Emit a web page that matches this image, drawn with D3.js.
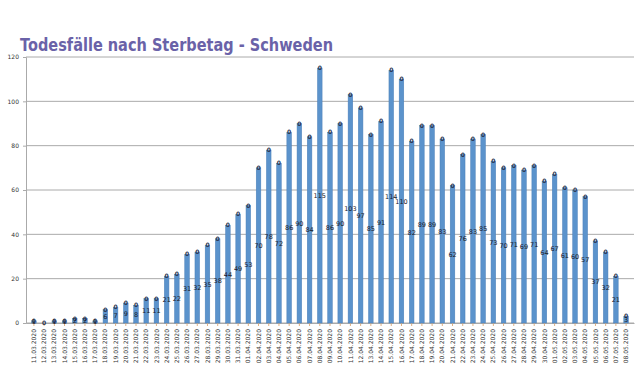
<!DOCTYPE html>
<html>
<head>
<meta charset="utf-8">
<script src="https://cdn.jsdelivr.net/npm/d3@7"></script>
<style>
  body { margin: 0; background: #fff; }
  text { font-family: "DejaVu Sans", sans-serif; }
</style>
</head>
<body>
<div id="chart"></div>
<script>
var dates = ["11.03.2020","12.03.2020","13.03.2020","14.03.2020","15.03.2020","16.03.2020","17.03.2020",
  "18.03.2020","19.03.2020","20.03.2020","21.03.2020","22.03.2020","23.03.2020","24.03.2020","25.03.2020",
  "26.03.2020","27.03.2020","28.03.2020","29.03.2020","30.03.2020","31.03.2020",
  "01.04.2020","02.04.2020","03.04.2020","04.04.2020","05.04.2020","06.04.2020","07.04.2020","08.04.2020",
  "09.04.2020","10.04.2020","11.04.2020","12.04.2020","13.04.2020","14.04.2020","15.04.2020","16.04.2020",
  "17.04.2020","18.04.2020","19.04.2020","20.04.2020","21.04.2020","22.04.2020","23.04.2020","24.04.2020",
  "25.04.2020","26.04.2020","27.04.2020","28.04.2020","29.04.2020","30.04.2020",
  "01.05.2020","02.05.2020","03.05.2020","04.05.2020","05.05.2020","06.05.2020","07.05.2020","08.05.2020"];

var deaths = [1,0,1,1,2,2,1,6,7,9,8,11,11,21,22,31,32,35,38,44,49,
  53,70,78,72,86,90,84,115,86,90,103,97,85,91,114,110,82,89,89,83,62,76,83,85,73,70,71,69,71,64,
  67,61,60,57,37,32,21,3];

var yTicks = [0,20,40,60,80,100,120];

var title = "Todesfälle nach Sterbetag - Schweden";

var margin = {top: 57, right: 6, bottom: 61, left: 26},
    width = 640 - margin.left - margin.right,
    height = 384 - margin.top - margin.bottom;

var data = dates.map(function(d, i) { return {date: d, value: deaths[i]}; });

var svg = d3.select("#chart")
  .append("svg")
    .attr("width", 640)
    .attr("height", 384);

svg.append("text")
    .attr("x", 20)
    .attr("y", 51)
    .attr("fill", "#6a62a8")
    .attr("font-family", "Open Sans, sans-serif")
    .attr("font-weight", 600)
    .attr("font-size", 17)
    .attr("textLength", 313)
    .attr("lengthAdjust", "spacingAndGlyphs")
    .text(title);

var g = svg.append("g")
    .attr("transform", "translate(" + margin.left + "," + margin.top + ")");

var x = d3.scaleBand()
    .domain(dates)
    .range([0, width])
    .padding(0.55);

var y = d3.scaleLinear()
    .domain([0, 120])
    .range([height, 0]);

// gridlines
g.append("g")
  .selectAll("line")
  .data(yTicks)
  .enter()
  .append("line")
    .attr("x1", 0)
    .attr("x2", width)
    .attr("y1", function(d) { return y(d); })
    .attr("y2", function(d) { return y(d); })
    .attr("stroke", "#aaa")
    .attr("stroke-width", 1);

var yAxis = g.append("g")
    .call(d3.axisLeft(y).tickValues(yTicks).tickSize(3).tickPadding(4));
yAxis.select(".domain").attr("stroke", "#aaa");
yAxis.selectAll(".tick line").attr("stroke", "#aaa");
yAxis.selectAll("text").attr("font-size", 6).attr("fill", "#333");

var xAxis = g.append("g")
    .attr("transform", "translate(0," + height + ")")
    .call(d3.axisBottom(x).tickSize(3).tickSizeOuter(0));
xAxis.select(".domain").attr("stroke", "#aaa");
xAxis.selectAll(".tick line").attr("stroke", "#e0b080");
xAxis.selectAll("text")
    .attr("font-size", 6)
    .attr("fill", "#333")
    .attr("transform", "rotate(-90)")
    .attr("text-anchor", "end")
    .attr("x", -6)
    .attr("y", 0)
    .attr("dy", "0.35em");

g.append("g")
  .selectAll("rect")
  .data(data)
  .enter()
  .append("rect")
    .attr("x", function(d) { return x(d.date); })
    .attr("y", function(d) { return y(d.value); })
    .attr("width", x.bandwidth())
    .attr("height", function(d) { return height - y(d.value); })
    .attr("fill", "#5b93cc")
    .attr("stroke", "#4a7fb8")
    .attr("stroke-width", 0.5);

// small "0" markers on top of each bar
g.append("g")
  .selectAll("text")
  .data(data)
  .enter()
  .append("text")
    .attr("x", function(d) { return x(d.date) + x.bandwidth() / 2; })
    .attr("y", function(d) { return y(d.value) + 2; })
    .attr("text-anchor", "middle")
    .attr("font-size", 6)
    .attr("font-weight", "bold")
    .attr("fill", "#2a3550")
    .text("0");

// value labels in the middle of the bar
g.append("g")
  .selectAll("text")
  .data(data.filter(function(d) { return d.value > 0; }))
  .enter()
  .append("text")
    .attr("x", function(d) { return x(d.date) + x.bandwidth() / 2; })
    .attr("y", function(d) { return (y(d.value) + height) / 2 + 2.5; })
    .attr("text-anchor", "middle")
    .attr("font-size", 6.5)
    .attr("fill", "#1a1a2a")
    .text(function(d) { return d.value; });
</script>
</body>
</html>
